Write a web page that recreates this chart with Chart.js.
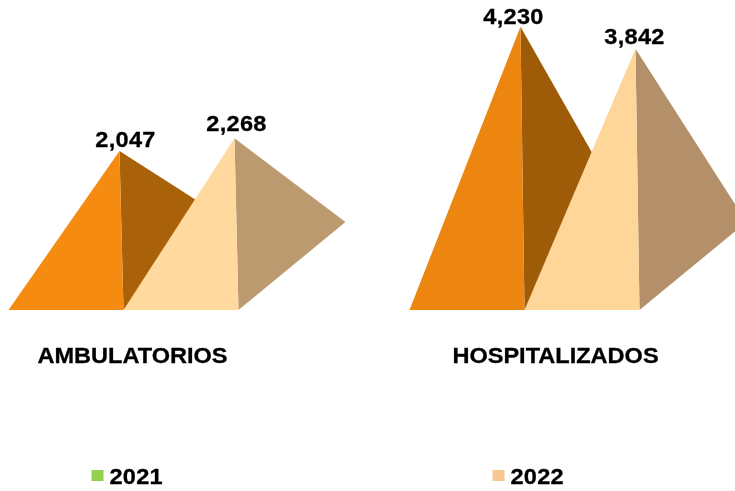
<!DOCTYPE html>
<html lang="en">
<head>
    <meta charset="UTF-8">
    <title>Ambulatorios y hospitalizados</title>
    <style>
        html, body {
            margin: 0;
            padding: 0;
            background-color: #ffffff;
            overflow: hidden;
            width: 735px;
            height: 491px;
        }
        #wrap {
            position: absolute;
            left: -77px;
            top: 0;
            width: 900px;
            height: 491px;
        }
    </style>
</head>
<body>
    <div id="wrap"><canvas id="chart" width="900" height="491"></canvas></div>

    <script src="https://cdn.jsdelivr.net/npm/chart.js"></script>
    <script>
        const categories = ['AMBULATORIOS', 'HOSPITALIZADOS'];
        const years = ['2021', '2022'];
        const values2021 = [2047, 4230];
        const values2022 = [2268, 3842];

        const legendColors = ['#92D050', '#F8C78F'];
        const frontColors = [['#F58B10', '#ED8610'], ['#FFD99E', '#FFD699']];
        const sideColors = [['#A9620A', '#9E5C08'], ['#BC9A70', '#B39069']];

        const FONT = 'bold 22px "Liberation Sans", Arial, sans-serif';
        const TEXT_STRETCH = 1.07;

        // the original text boxes were nudged by hand, not centred on the peaks
        const valueNudge = [[[6, -4], [-7, -3]], [[2, -7], [-1, -5]]];
        const categoryNudge = [9, 31];

        function stretchedText(ctx, text, x, y, align, spacing) {
            ctx.save();
            ctx.font = FONT;
            ctx.letterSpacing = spacing;
            ctx.fillStyle = '#000000';
            ctx.strokeStyle = '#000000';
            ctx.lineWidth = 0.3;
            ctx.textAlign = align;
            ctx.textBaseline = 'alphabetic';
            ctx.translate(x, y);
            ctx.scale(TEXT_STRETCH, 1);
            ctx.fillText(text, 0, 0);
            ctx.strokeText(text, 0, 0);
            ctx.restore();
        }

        function fillPoly(ctx, color, points) {
            ctx.fillStyle = color;
            ctx.beginPath();
            points.forEach((p, i) => i ? ctx.lineTo(p[0], p[1]) : ctx.moveTo(p[0], p[1]));
            ctx.closePath();
            ctx.fill();
        }

        // turns each (invisible) bar into a pyramid
        const pyramids = {
            id: 'pyramids',
            afterDatasetsDraw(chart) {
                const ctx = chart.ctx;
                chart.data.datasets.forEach((ds, d) => {
                    chart.getDatasetMeta(d).data.forEach((bar, i) => {
                        const left = bar.x - bar.width / 2;
                        const apex = [left + bar.width * 0.965, bar.y];
                        const front = [left + bar.width, bar.base];
                        const right = [left + bar.width * 1.93, bar.base - 88];
                        fillPoly(ctx, sideColors[d][i], [apex, right, front]);
                        fillPoly(ctx, frontColors[d][i], [[left, bar.base], apex, front]);
                    });
                });
            },
            afterDraw(chart) {
                const ctx = chart.ctx;
                const x = chart.scales.x;
                const bottom = chart.chartArea.bottom;

                chart.data.datasets.forEach((ds, d) => {
                    chart.getDatasetMeta(d).data.forEach((bar, i) => {
                        const left = bar.x - bar.width / 2;
                        const nudge = valueNudge[d][i];
                        const text = ds.data[i].toLocaleString('en-US');
                        stretchedText(ctx, text, left + bar.width * 0.965 + nudge[0], bar.y + nudge[1], 'center', '0.25px');
                    });
                });

                categories.forEach((name, i) => {
                    const cx = x.getPixelForValue(i);
                    stretchedText(ctx, name, cx + categoryNudge[i], bottom + 53, 'center', '0px');

                    ctx.fillStyle = legendColors[i];
                    ctx.fillRect(cx - 32, bottom + 160, 12, 11);
                    stretchedText(ctx, years[i], cx - 14, bottom + 174, 'left', '0.25px');
                });
            }
        };

        new Chart(document.getElementById('chart'), {
            type: 'bar',
            data: {
                labels: categories,
                datasets: [
                    { label: years[0], data: values2021, base: -750, backgroundColor: 'transparent' },
                    { label: years[1], data: values2022, base: -750, backgroundColor: 'transparent' }
                ]
            },
            options: {
                responsive: false,
                animation: false,
                layout: { padding: { left: 0, right: 98, top: 0, bottom: 181 } },
                datasets: { bar: { categoryPercentage: 230 / 401, barPercentage: 1 } },
                scales: {
                    x: { display: false },
                    y: { display: false, min: -750, max: 4700 }
                },
                plugins: {
                    legend: { display: false },
                    tooltip: { enabled: false }
                }
            },
            plugins: [pyramids]
        });
    </script>
</body>
</html>
